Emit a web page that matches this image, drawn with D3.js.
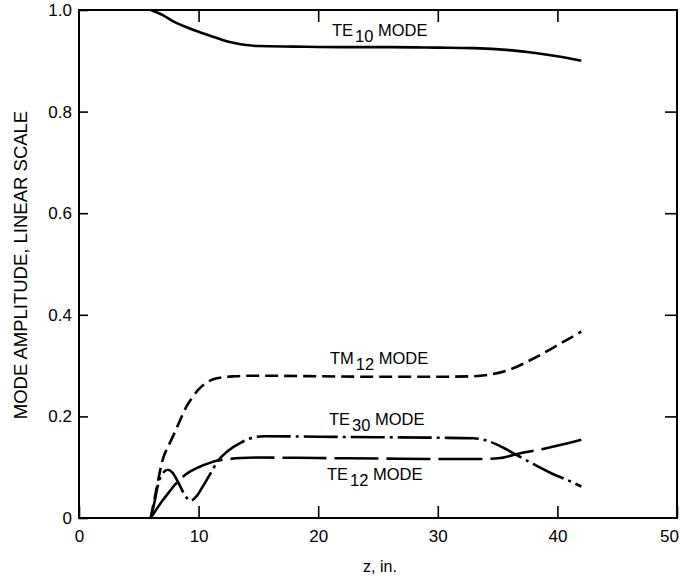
<!DOCTYPE html>
<html>
<head>
<meta charset="utf-8">
<script src="https://cdn.jsdelivr.net/npm/d3@7"></script>
<style>
  body { margin: 0; background: #fff; }
  svg { display: block; font-family: "Liberation Sans", Arial, sans-serif; }
</style>
</head>
<body>
<svg id="chart" width="681" height="579"></svg>
<script>
// values (z in inches, amplitude on linear scale)
const te10Z = [6, 7, 8, 9, 10, 11, 12, 13, 14, 15, 18, 22, 26, 30, 33, 36, 38, 40, 42];
const te10V = [1.0, 0.99, 0.976, 0.966, 0.957, 0.949, 0.941, 0.935, 0.931, 0.929, 0.928, 0.927, 0.927, 0.926, 0.925, 0.921, 0.916, 0.909, 0.9];

const tm12Z = [6, 6.5, 7, 7.5, 8, 8.5, 9, 9.5, 10, 10.5, 11, 11.5, 12, 13, 14, 16, 20, 25, 30, 33, 34.5, 36, 38, 40, 42];
const tm12V = [0, 0.06, 0.115, 0.143, 0.168, 0.195, 0.22, 0.238, 0.253, 0.264, 0.271, 0.275, 0.277, 0.279, 0.28, 0.28, 0.279, 0.278, 0.278, 0.279, 0.283, 0.292, 0.314, 0.34, 0.367];

const te30Z = [6, 6.3, 6.6, 7, 7.4, 7.8, 8.3, 8.8, 9.3, 9.8, 10.3, 11, 11.6, 12.5, 13.5, 14.5, 15.5, 20, 25, 30, 33, 34, 35, 36.6, 38, 39.4, 41, 42];
const te30V = [0, 0.03, 0.065, 0.088, 0.095, 0.09, 0.07, 0.047, 0.034, 0.042, 0.06, 0.088, 0.112, 0.133, 0.148, 0.158, 0.161, 0.16, 0.159, 0.158, 0.157, 0.153, 0.144, 0.124, 0.106, 0.089, 0.073, 0.062];

const te12Z = [6, 6.5, 7, 7.5, 8, 8.5, 9, 10, 11, 11.6, 12.5, 13.5, 15, 20, 25, 30, 33.5, 35.2, 36.6, 38.8, 40.5, 42];
const te12V = [0, 0.018, 0.035, 0.05, 0.065, 0.077, 0.087, 0.1, 0.109, 0.113, 0.116, 0.118, 0.119, 0.118, 0.117, 0.116, 0.116, 0.118, 0.126, 0.136, 0.145, 0.154];

const xTicks = [0, 10, 20, 30, 40, 50];
const yTicks = [0, 0.2, 0.4, 0.6, 0.8, 1.0];

const series = [
  { name: "TE", sub: "10", z: te10Z, v: te10V, dash: null, lx: 332, ly: 36 },
  { name: "TM", sub: "12", z: tm12Z, v: tm12V, dash: "13,6", lx: 330, ly: 364 },
  { name: "TE", sub: "30", z: te30Z, v: te30V, dash: "34,5,3,5", lx: 329, ly: 425 },
  { name: "TE", sub: "12", z: te12Z, v: te12V, dash: "44,8", lx: 327, ly: 480 }
];

const svg = d3.select("#chart");
const plotL = 79, plotR = 677, plotT = 10, plotB = 518;

const x = d3.scaleLinear().domain([0, 50]).range([plotL, plotR]);
const y = d3.scaleLinear().domain([0, 1]).range([plotB, plotT]);

// axes with inward ticks
const gx = svg.append("g")
    .attr("transform", `translate(0,${plotB})`)
    .call(d3.axisBottom(x).tickValues(xTicks).tickSizeInner(-12).tickSizeOuter(0).tickPadding(12));
const gy = svg.append("g")
    .attr("transform", `translate(${plotL},0)`)
    .call(d3.axisLeft(y).tickValues(yTicks).tickSizeInner(-9).tickSizeOuter(0).tickPadding(7)
      .tickFormat(d => d === 0 ? "0" : d3.format(".1f")(d)));
svg.append("g")
    .attr("transform", `translate(0,${plotT})`)
    .call(d3.axisTop(x).tickValues([10, 20, 30, 40]).tickSizeInner(-12).tickSizeOuter(0).tickFormat(""));
svg.append("g")
    .attr("transform", `translate(${plotR},0)`)
    .call(d3.axisRight(y).tickValues([0.2, 0.4, 0.6, 0.8]).tickSizeInner(-12).tickSizeOuter(0).tickFormat(""));

svg.selectAll(".domain").remove();
svg.selectAll(".tick line").attr("stroke", "#000").attr("stroke-width", 1.6);
svg.selectAll(".tick text").attr("fill", "#000").style("font-size", "17px");
gx.selectAll(".tick text").filter(d => d === 50).attr("dx", -8);

svg.append("rect")
    .attr("x", plotL).attr("y", plotT)
    .attr("width", plotR - plotL).attr("height", plotB - plotT)
    .attr("fill", "none").attr("stroke", "#000").attr("stroke-width", 2);

// curves
const line = d3.line()
    .x(d => x(d[0]))
    .y(d => y(d[1]))
    .curve(d3.curveMonotoneX);

svg.append("g").selectAll("path")
  .data(series)
  .join("path")
    .attr("d", s => line(s.z.map((z, i) => [z, s.v[i]])))
    .attr("fill", "none")
    .attr("stroke", "#000")
    .attr("stroke-width", 2.6)
    .attr("stroke-dasharray", s => s.dash);

// curve labels
const lbl = svg.append("g").selectAll("text")
  .data(series)
  .join("text")
    .attr("x", s => s.lx)
    .attr("y", s => s.ly)
    .style("font-size", "16.5px");
lbl.append("tspan").text(s => s.name);
lbl.append("tspan").attr("dx", 2).attr("dy", 6).text(s => s.sub);
lbl.append("tspan").attr("dy", -6).text(" MODE");

// axis titles
svg.append("text")
    .attr("x", 380).attr("y", 572)
    .attr("text-anchor", "middle")
    .style("font-size", "16px")
    .text("z, in.");

svg.append("text")
    .attr("transform", "translate(27,265) rotate(-90)")
    .attr("text-anchor", "middle")
    .style("font-size", "18.5px")
    .text("MODE AMPLITUDE, LINEAR SCALE");
</script>
</body>
</html>
